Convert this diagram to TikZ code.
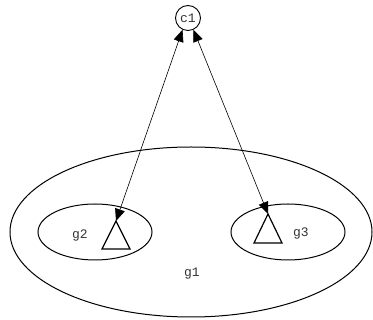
\documentclass[tikz,border=0pt]{standalone}
\usepackage{fontspec}
\setmonofont{Liberation Mono}
\usetikzlibrary{arrows.meta}
\begin{document}
\begin{tikzpicture}[x=1pt,y=-1pt,
  lbl/.style={font=\ttfamily\fontsize{13}{13}\selectfont, text=black!80, inner sep=0pt},
  cl/.style={draw, line width=1pt},
  tri/.style={draw, line width=1.2pt, line join=miter},
  conn/.style={draw, line width=0.6pt, {Triangle[length=12pt,width=10pt]}-{Triangle[length=12pt,width=10pt]}}]
\useasboundingbox (0,0) rectangle (373,320);
% clusters
\draw[cl] (191,232) ellipse [x radius=181, y radius=85];
\draw[cl] (95,232) ellipse [x radius=57, y radius=28];
\draw[cl] (288,232) ellipse [x radius=57, y radius=28];
\node[lbl] (g1) at (192,274) {g1};
\node[lbl] (g2) at (80,236) {g2};
\node[lbl] (g3) at (301,234) {g3};
% c1
\node[draw, circle, line width=0.9pt, minimum size=25pt, inner sep=0pt, lbl] (c1) at (188,18) {c1};
% triangles
\coordinate (t2) at (116,221);
\coordinate (t3) at (268,214);
\draw[tri] (t2) -- (130,249) -- (102,249) -- cycle;
\draw[tri] (t3) -- (282,243) -- (254,243) -- cycle;
% connectors
\draw[conn] (c1.245) -- (t2);
\draw[conn] (c1.295) -- (t3);
\end{tikzpicture}
\end{document}
